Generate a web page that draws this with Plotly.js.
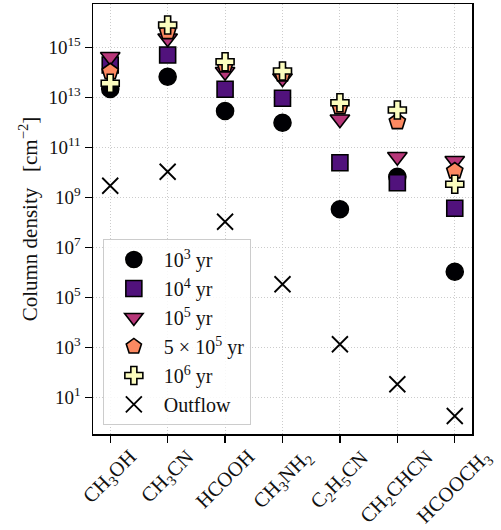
<!DOCTYPE html>
<html><head><meta charset="utf-8">
<script src="https://cdn.plot.ly/plotly-3.0.1.min.js"></script>
<style>body{margin:0;background:#fff}</style>
</head><body><div id="chart" style="width:501px;height:530px"></div>
<script>
const molecules = ["CH<sub>3</sub>OH","CH<sub>3</sub>CN","HCOOH","CH<sub>3</sub>NH<sub>2</sub>","C<sub>2</sub>H<sub>5</sub>CN","CH<sub>2</sub>CHCN","HCOOCH<sub>3</sub>"];
// log10 column densities
const logN_1e3 = [13.33, 13.82, 12.45, 11.98, 8.52, 9.82, 6.02];
const logN_1e4 = [14.29, 14.69, 13.32, 12.96, 10.38, 9.58, 8.56];
const logN_1e5 = [14.62, 15.36, 14.02, 13.76, 12.12, 10.62, 10.46];
const logN_5e5 = [14.02, 15.62, 14.29, 13.93, 12.62, 12.02, 10.05];
const logN_1e6 = [13.56, 15.89, 14.42, 14.05, 12.78, 12.49, 9.52];
const logN_outflow = [9.46, 10.02, 8.02, 5.52, 3.12, 1.52, 0.25];
const seriesNames = ["10<sup>3</sup> yr","10<sup>4</sup> yr","10<sup>5</sup> yr","5 × 10<sup>5</sup> yr","10<sup>6</sup> yr","Outflow"];
const yTickExp = [1,3,5,7,9,11,13,15];

const idx = molecules.map((_, i) => i);
const pw = a => a.map(v => Math.pow(10, v));
const styles = [
  {symbol:"circle", color:"#000004", size:17},
  {symbol:"square", color:"#51127c", size:16},
  {symbol:"triangle-down", color:"#b73779", size:17},
  {symbol:"pentagon", color:"#fc8961", size:17},
  {symbol:"cross", color:"#fcfdbf", size:15}
];
const series = [logN_1e3, logN_1e4, logN_1e5, logN_5e5, logN_1e6];
const traces = series.map((s, k) => ({
  x: idx, y: pw(s), type: "scatter", mode: "markers", name: seriesNames[k],
  marker: {symbol: styles[k].symbol, color: styles[k].color, size: styles[k].size,
           line: {color: "#000", width: 1.6}}
}));
traces.push({
  x: idx, y: pw(logN_outflow), type: "scatter", mode: "markers", name: seriesNames[5],
  marker: {symbol: "x-thin-open", color: "#000", size: 16, line: {color: "#000", width: 1.8}}
});

const FAM = "Liberation Serif, Times New Roman, serif";
const font = {family: FAM, size: 19.5, color: "#111"};
const tickFont = {family: FAM, size: 19, color: "#111"};
const xAnn = molecules.map((m, i) => ({
  x: i, xref: "x", y: 0, yref: "paper", yshift: -9,
  text: m, textangle: -45, showarrow: false,
  xanchor: "center", yanchor: "top",
  font: {family: FAM, size: 20.5, color: "#111"}
}));

const layout = {
  width: 501, height: 530,
  margin: {l: 93, r: 29, t: 4, b: 96},
  paper_bgcolor: "#fff", plot_bgcolor: "#fff",
  font: font,
  showlegend: true,
  legend: {x: 0.026, y: 0.021, xanchor: "left", yanchor: "bottom",
           bgcolor: "rgba(255,255,255,0.85)", bordercolor: "#cccccc", borderwidth: 1,
           font: {family: FAM, size: 20, color: "#111"}, tracegroupgap: 0, itemwidth: 50},
  annotations: xAnn,
  xaxis: {
    range: [-0.3, 6.3], tickvals: idx, showticklabels: false,
    showline: true, mirror: true, linecolor: "#000", linewidth: 1.5,
    ticks: "outside", ticklen: 7, tickwidth: 1.2, tickcolor: "#000",
    showgrid: true, gridcolor: "#cccccc", griddash: "1px,2px", gridwidth: 1,
    zeroline: false
  },
  yaxis: {
    type: "log", range: [-0.47, 16.73],
    tickvals: yTickExp.map(e => Math.pow(10, e)),
    ticktext: yTickExp.map(e => "10<sup>" + e + "</sup>"),
    showline: true, mirror: true, linecolor: "#000", linewidth: 1.5,
    ticks: "outside", ticklen: 7, tickwidth: 1.2, tickcolor: "#000",
    showgrid: true, gridcolor: "#cccccc", griddash: "1px,2px", gridwidth: 1,
    zeroline: false, tickfont: tickFont,
    title: {text: "Column density   [cm<sup>−2</sup>]", font: {family: FAM, size: 21, color: "#111"}, standoff: 5}
  }
};
Plotly.newPlot("chart", traces, layout, {displayModeBar: false, staticPlot: true});
</script></body></html>
